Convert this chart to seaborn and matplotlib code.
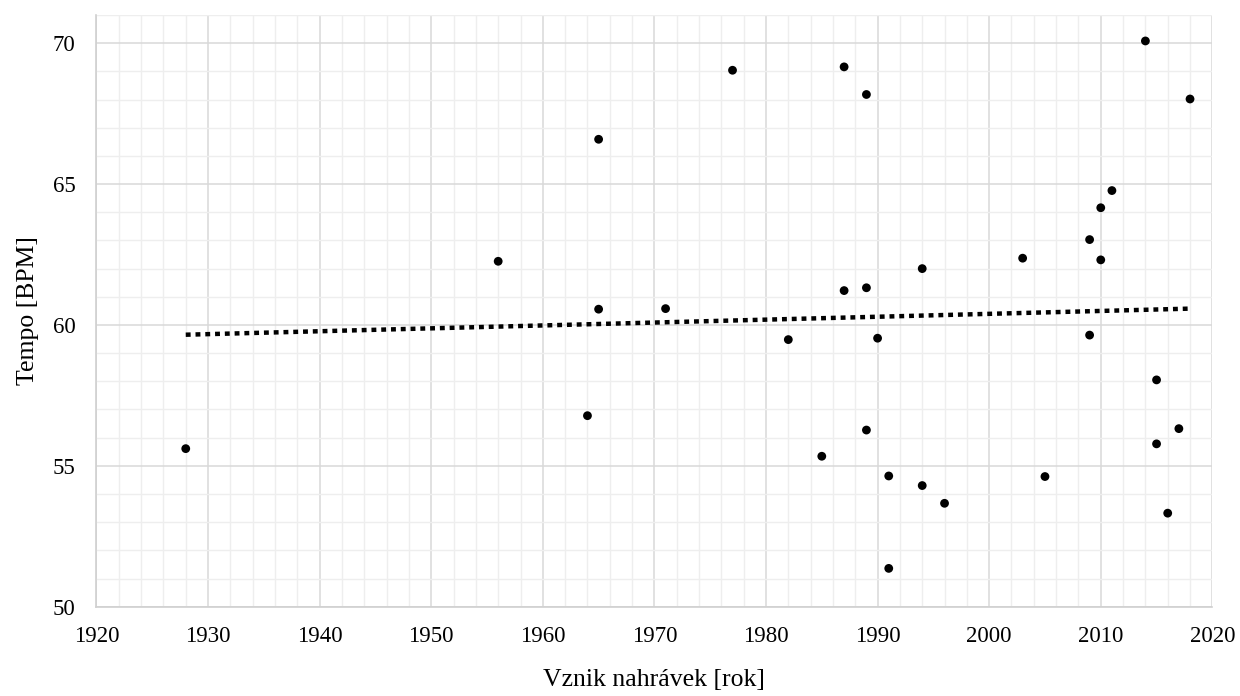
import matplotlib
matplotlib.use("Agg")
import matplotlib.pyplot as plt
from matplotlib.ticker import MultipleLocator
import numpy as np
import pandas as pd
import seaborn as sns

# Recording year and measured tempo of each recording
years = [1928, 1956, 1964, 1965, 1965, 1971, 1977, 1982, 1985, 1987, 1987,
         1989, 1989, 1989, 1990, 1991, 1991, 1994, 1994, 1996, 2003, 2005,
         2009, 2009, 2010, 2010, 2011, 2014, 2015, 2015, 2016, 2017, 2018]
tempos = [55.61, 62.26, 56.78, 66.59, 60.56, 60.58, 69.04, 59.48, 55.34, 69.16, 61.22,
          68.18, 61.32, 56.27, 59.53, 54.64, 51.36, 62.00, 54.30, 53.67, 62.37, 54.62,
          63.03, 59.64, 64.16, 62.31, 64.77, 70.08, 58.05, 55.78, 53.32, 56.32, 68.02]

x_label = "Vznik nahrávek [rok]"
y_label = "Tempo [BPM]"

df = pd.DataFrame({"rok": years, "tempo": tempos})

sns.set_theme(style="white")
plt.rcParams["font.family"] = ["Liberation Serif", "DejaVu Serif"]

fig = plt.figure(figsize=(12.4, 6.96), dpi=100)
ax = fig.add_axes([0.0778, 0.1283, 0.8999, 0.8501])

# Linear trend across the recordings
sns.regplot(data=df, x="rok", y="tempo", scatter=False, ci=None, ax=ax,
            line_kws=dict(color="black", linewidth=3.2,
                          linestyle=(0, (1.1, 1.1)), dash_capstyle="butt",
                          zorder=3))
sns.scatterplot(data=df, x="rok", y="tempo", ax=ax, color="black",
                s=40, edgecolor="none", zorder=4)

ax.set_xlim(1920, 2020)
ax.set_ylim(50, 71)
ax.xaxis.set_major_locator(MultipleLocator(10))
ax.xaxis.set_minor_locator(MultipleLocator(2))
ax.yaxis.set_major_locator(MultipleLocator(5))
ax.yaxis.set_minor_locator(MultipleLocator(1))

ax.grid(which="major", color="#d9d9d9", linewidth=1.1)
ax.grid(which="minor", color="#eeeeee", linewidth=1.0)
ax.set_axisbelow(True)

for side in ("top", "right"):
    ax.spines[side].set_visible(False)
for side in ("left", "bottom"):
    ax.spines[side].set_color("#d0d0d0")
    ax.spines[side].set_linewidth(1.2)

ax.tick_params(axis="both", which="both", length=0, labelsize=16.5,
               labelcolor="#000000")
ax.tick_params(axis="x", pad=14)
ax.tick_params(axis="y", pad=15)

ax.set_xlabel(x_label, fontsize=18.5, color="#000000", labelpad=16)
ax.set_ylabel(y_label, fontsize=18.5, color="#000000", labelpad=10)

fig.savefig("out.png", dpi=100, facecolor="white")
